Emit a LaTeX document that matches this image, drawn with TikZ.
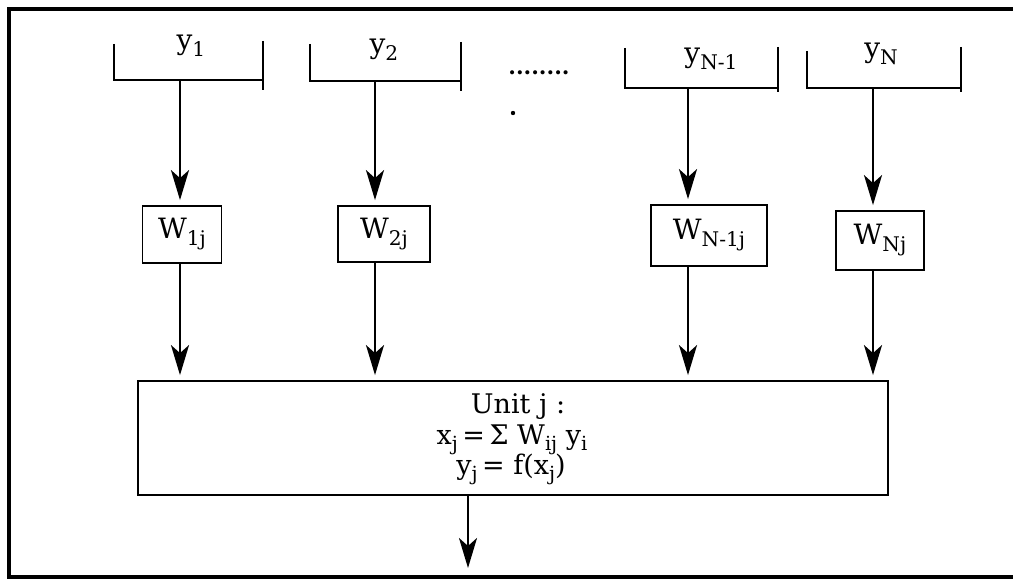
\documentclass[tikz,border=0pt]{standalone}
\usepackage{fontspec}
\usepackage{graphicx}
\setmainfont{DejaVu Serif}
\usetikzlibrary{arrows.meta}
\newcommand{\sbs}[1]{\raisebox{-0.25em}{\scalebox{0.72}{#1}}}
\begin{document}
\begin{tikzpicture}[x=1pt,y=-1pt,
  brk/.style={line width=1.8pt},
  wbox/.style={draw, line width=1.8pt, inner sep=0pt, font=\fontsize{28}{32}\selectfont},
  lbl/.style={font=\fontsize{28}{32}\selectfont, inner sep=0pt},
  utxt/.style={font=\fontsize{27}{31}\selectfont, inner sep=0pt, anchor=base},
  arr/.style={-{Stealth[length=30pt,width=18pt,inset=8pt]}, line width=2.5pt, shorten >=5pt}]
\useasboundingbox (0,0) rectangle (1013,580);
% outer frame (right side outside the picture)
\draw[line width=3.2pt] (1013,9) -- (9,9) -- (9,577) -- (1013,577);
% input brackets
\draw[brk] (114,44) -- (114,80) -- (263,80);
\draw[brk] (263,41) -- (263,90);
\draw[brk] (310,44) -- (310,81) -- (461,81);
\draw[brk] (461,42) -- (461,91);
\draw[brk] (625,48) -- (625,88) -- (778,88);
\draw[brk] (778,47) -- (778,92);
\draw[brk] (807,51) -- (807,88) -- (961,88);
\draw[brk] (961,47) -- (961,92);
\node[lbl] (y1) at (191,46) {y\sbs{1}};
\node[lbl] (y2) at (384,50) {y\sbs{2}};
\node[lbl] (yn1) at (711,59) {y\sbs{N-1}};
\node[lbl] (yn) at (881,54) {y\sbs{N}};
\node[lbl, font=\fontsize{22}{24}\bfseries] (dots) at (539,73) {........};
\fill (513,113) circle (2.2pt);
% bracket outlets
\coordinate (b1) at (180,80);
\coordinate (b2) at (375,81);
\coordinate (b3) at (688,88);
\coordinate (b4) at (873,88);
% weight boxes
\node[wbox, minimum width=79pt, minimum height=57pt] (w1) at (182,234.5) {W\sbs{1j}};
\node[wbox, minimum width=92pt, minimum height=56pt] (w2) at (384,234) {W\sbs{2j}};
\node[wbox, minimum width=116pt, minimum height=61pt] (w3) at (709,235.5) {W\sbs{N-1j}};
\node[wbox, minimum width=88pt, minimum height=59pt] (w4) at (880,240.5) {W\sbs{Nj}};
% unit box
\node[draw, line width=1.8pt, minimum width=750pt, minimum height=114pt] (unit) at (513,438) {};
\node[utxt] (t1) at (518,413) {Unit j :};
\node[utxt] (t2) at (512,444) {x\sbs{j}\,=\,Σ W\sbs{ij} y\sbs{i}};
\node[utxt] (t3) at (511,474) {y\sbs{j}\,= f(x\sbs{j})};
\coordinate (out) at (468,568);
% connectors
\draw[arr] (b1) -- (b1 |- w1.north);
\draw[arr] (b2) -- (b2 |- w2.north);
\draw[arr] (b3) -- (b3 |- w3.north);
\draw[arr] (b4) -- (b4 |- w4.north);
\draw[arr] (b1 |- w1.south) -- (b1 |- unit.north);
\draw[arr] (b2 |- w2.south) -- (b2 |- unit.north);
\draw[arr] (b3 |- w3.south) -- (b3 |- unit.north);
\draw[arr] (b4 |- w4.south) -- (b4 |- unit.north);
\draw[arr, shorten >=0pt] (out |- unit.south) -- (out);
\end{tikzpicture}
\end{document}
